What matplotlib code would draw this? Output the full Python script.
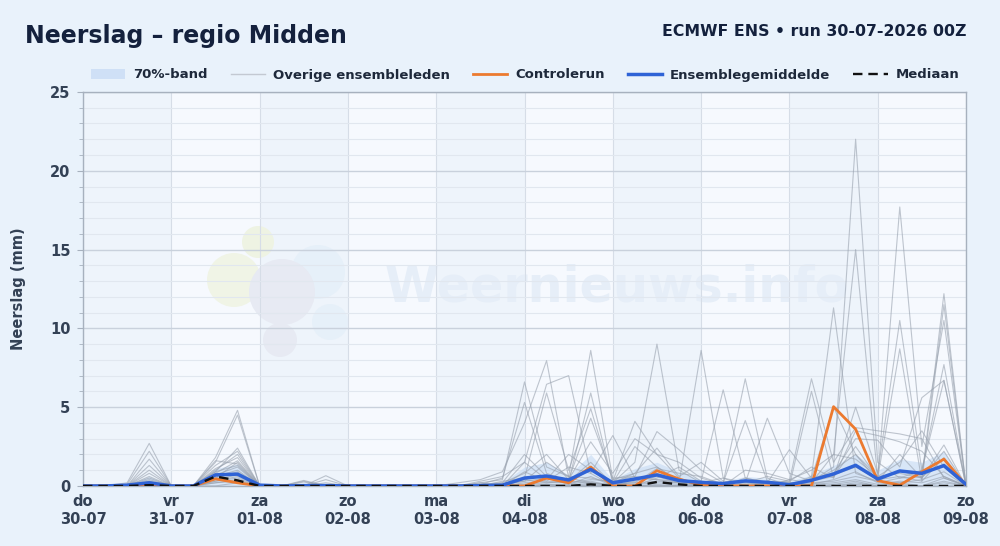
import numpy as np
import matplotlib.pyplot as plt
from matplotlib.patches import Patch, Ellipse
from matplotlib.lines import Line2D

# 6-hourly steps from 30-07 00Z to 09-08 00Z
steps = np.arange(41) * 6
day_labels = ['do\n30-07', 'vr\n31-07', 'za\n01-08', 'zo\n02-08', 'ma\n03-08', 'di\n04-08',
              'wo\n05-08', 'do\n06-08', 'vr\n07-08', 'za\n08-08', 'zo\n09-08']

# ensemble members (mm per 6h)
members = [
    [0,0,0.2,2.7,0, 0,1.8,4.8,0,0, 0,0,0,0,0, 0,0,0,0.2,0.4, 6.6,1.2,0.6,8.6,0.4, 0.8,1.2,0.3,0,0, 0,0.2,0,0.6,11.3, 0.8,0.3,2.0,0.5,12.2, 0],
    [0,0,0.1,2.2,0, 0,1.5,4.5,0,0, 0,0.2,0,0,0, 0,0,0,0.1,0.5, 5.3,0.8,0.3,5.9,0.2, 1.5,9.0,1.0,0.2,0, 0.5,0.2,0,0.3,1.2, 22.0,1.5,0.5,1.0,7.7, 0],
    [0,0,0,1.7,0, 0,0.9,2.4,0,0, 0.35,0,0,0,0, 0,0,0.2,0.4,0.9, 4.0,7.95,0.5,0.2,0, 0.3,0.6,0.2,8.6,0.5, 0,0,0.4,0.2,2.0, 15.0,0.5,17.7,2.5,10.5, 0],
    [0,0,0,1.3,0, 0,1.3,2.2,0,0, 0,0.65,0,0,0, 0,0,0,0.3,0.6, 1.5,6.45,7.0,0.8,3.2, 0.5,0.4,0.2,0.3,6.1, 0.5,0.2,0.3,6.8,1.5, 3.7,3.5,3.3,3.0,0.5, 0],
    [0,0,0,1.0,0, 0,1.0,2.0,0,0, 0,0,0,0,0, 0,0,0,0,0.3, 0.5,5.9,1.0,4.9,0.3, 4.1,2.0,0.5,0,0.2, 6.8,0.5,0,6.0,0.5, 5.0,0.8,10.5,1.0,6.7, 0],
    [0,0,0,0.8,0, 0,1.1,1.8,0,0, 0.3,0,0,0,0, 0,0,0,0,0.2, 2.0,0.6,0.4,4.3,0.5, 0.6,3.45,2.3,1.0,0.2, 4.15,0.3,0,0.5,5.0, 2.0,0.3,1.0,0.5,2.6, 0],
    [0,0,0,0.5,0, 0,0.8,1.6,0,0, 0,0.4,0,0,0, 0,0,0,0,0, 1.5,0.4,2.0,1.0,0.2, 2.5,1.2,0.3,0.1,0, 0.2,4.3,0.8,0.3,0.6, 2.5,0.5,8.7,0.3,11.5, 0],
    [0,0,0,0.4,0, 0,0.9,1.3,0,0, 0.25,0,0,0,0, 0,0,0,0.1,0.2, 0.8,2.0,0.4,2.8,0.8, 3.0,2.0,1.5,0.5,0.1, 0,0.2,2.3,0.5,0.8, 3.0,2.9,1.2,5.6,6.7, 0],
    [0,0,0,0.3,0, 0,0.7,1.2,0,0, 0,0,0,0,0, 0,0,0,0,0.1, 0.3,1.5,0.6,0.5,0.2, 0.8,2.4,0.6,1.5,0.3, 0.2,0.6,0.3,1.2,0.5, 3.5,3.2,2.8,2.2,0.6, 0],
    [0,0,0,0.2,0, 0,0.6,1.0,0,0, 0,0,0,0,0, 0,0,0,0,0, 0.2,0.3,1.2,0.8,0, 0,0.5,1.2,0.3,0, 1.0,0.8,0.4,1.0,2.0, 1.7,0.6,1.5,3.5,1.2, 0],
    [0,0,0,0.15,0, 0,0.5,0.9,0,0, 0,0,0,0,0, 0,0,0,0,0, 0.4,0.2,0.3,1.5,0.1, 0.2,1.1,0.8,0.6,0.1, 0.3,0.2,0,0.4,0.7, 1.2,0.4,0.6,0.3,1.8, 0],
    [0,0,0,0.1,0, 0,0.4,0.7,0,0, 0,0,0,0,0, 0,0,0,0.2,0, 0.9,0.3,0.2,0.4,0.3, 0.6,0.4,0.3,0.2,0.5, 0.2,0.1,0.2,0.3,1.0, 2.0,0.6,0.8,0.5,2.2, 0],
    [0,0,0,0.1,0, 0,0.3,0.6,0,0, 0,0,0,0,0, 0,0,0,0,0.1, 0.3,0.5,0.1,0.6,0, 0.4,0.8,0.3,0.1,0, 0.1,0.3,0.2,0.1,0.4, 0.9,0.2,0.5,0.6,1.4, 0],
    [0,0,0,0.05,0, 0,0.3,0.5,0,0, 0,0,0,0,0, 0,0,0,0,0, 0.1,0.2,0.3,0.2,0.1, 0.2,0.3,0.2,0,0, 0,0,0.1,0.2,0.3, 0.6,0.3,0.2,0.4,0.9, 0],
    [0,0,0,0,0, 0,0.2,0.4,0,0, 0,0,0,0,0, 0,0,0,0,0, 0,0.1,0.1,0.3,0, 0.1,0.2,0.1,0,0, 0,0,0,0.1,0.2, 0.4,0.1,0.3,0.2,0.6, 0],
    [0,0,0,0.6,0, 0,1.6,1.4,0,0, 0,0,0,0,0, 0,0,0,0,0, 0,0.1,0,0.2,0, 0,0.1,0,0,0, 0,0,0,0,0.1, 0.3,0,0.2,0,0.5, 0],
    [0,0,0,0,0, 0,0.5,1.5,0,0, 0,0,0,0,0, 0,0,0,0,0, 0,0,0,0.1,0, 0,0,0,0,0, 0,0,0,0,0, 0.2,0,0.1,0,0.3, 0],
    [0,0,0,0.3,0, 0,0.2,0.3,0,0, 0,0,0,0,0, 0,0,0,0,0, 0,0,0,0,0, 0,0,0,0,0, 0,0,0,0,0, 0,0,0,0,0, 0],
    [0,0,0,0,0, 0,0,0.2,0,0, 0,0,0,0,0, 0,0,0,0,0, 0,0,0,0,0, 0,0,0,0,0, 0,0,0,0,0, 0.1,0,0,0,0.2, 0],
]

control = [0,0,0,0.1,0, 0,0.45,0.2,0,0, 0,0,0,0,0, 0,0,0,0,0, 0,0.5,0.2,1.2,0, 0,0.97,0.44,0.05,0, 0,0,0,0,5.03, 3.6,0.34,0.05,0.9,1.7, 0.05]
ens_mean = [0,0,0.05,0.2,0, 0,0.7,0.75,0.05,0, 0.02,0.02,0,0,0, 0,0,0,0.02,0.05, 0.5,0.63,0.38,1.05,0.2, 0.44,0.7,0.34,0.23,0.15, 0.32,0.23,0.08,0.36,0.76, 1.31,0.44,0.95,0.8,1.29, 0.1]
median = [0,0,0,0.05,0, 0,0.6,0.35,0,0, 0,0,0,0,0, 0,0,0,0,0, 0,0,0,0.1,0, 0,0.25,0.1,0,0, 0,0,0,0,0, 0,0,0,0,0, 0]
band_lo = [0]*41
band_hi = [0,0,0.1,0.6,0, 0,1.1,1.4,0.1,0, 0.05,0.1,0,0,0, 0,0,0,0.1,0.2, 1.2,1.5,0.7,2.0,0.4, 1.1,1.5,0.9,0.4,0.3, 0.6,0.5,0.3,0.7,1.3, 2.0,1.0,1.7,1.5,2.2, 0]

fig = plt.figure(figsize=(10, 5.46), dpi=100, facecolor='#e9f2fb')
ax = fig.add_axes([0.083, 0.110, 0.883, 0.7216])
ax.set_facecolor('#f6f9fe')

# alternating day shading
for d in range(0, 10, 2):
    ax.axvspan(d * 24, (d + 1) * 24, color='#eef4fb', zorder=0.1, lw=0)

# watermark
ax.text(0.385, 1 - 288 / 546, 'Weernieuws.info', transform=fig.transFigure, fontsize=35.5,
        color='#e6eef8', va='center', ha='left', zorder=0.3, fontweight='bold')
for (cx, cy, r, c) in [(234, 280, 27, '#f0f4e6'), (258, 242, 16, '#eef3e3'), (318, 272, 27, '#e6f0f9'),
                       (282, 292, 33, '#e7eaf3'), (330, 322, 18, '#e6f0f9'), (280, 340, 17, '#e7eaf3')]:
    ax.add_artist(Ellipse((cx / 1000, 1 - cy / 546), 2 * r / 1000, 2 * r / 546,
                          transform=fig.transFigure, color=c, zorder=0.3, lw=0))

ax.fill_between(steps, band_lo, band_hi, color='#c8dcf4', alpha=0.65, lw=0, zorder=1.8)
for m in members:
    ax.plot(steps, m, color='#98a1ae', lw=0.8, alpha=0.6, zorder=2)
ax.plot(steps, control, color='#ec7a2f', lw=2.0, zorder=4)
ax.plot(steps, ens_mean, color='#2f63d6', lw=2.5, zorder=5)
ax.plot(steps, median, color='#111111', lw=1.7, ls=(0, (4, 2.5)), zorder=6)

ax.set_xlim(0, 240)
ax.set_ylim(0, 25)
ax.set_xticks(np.arange(0, 241, 24))
ax.set_xticklabels(day_labels)
ax.set_yticks(np.arange(0, 26, 5))
ax.set_yticks(np.arange(0, 26, 1), minor=True)
ax.tick_params(axis='x', length=0, pad=6, labelsize=10.5, labelcolor='#334155')
ax.tick_params(axis='y', which='major', length=4, color='#a7b1be', pad=5, labelsize=10.5, labelcolor='#334155')
ax.tick_params(axis='y', which='minor', length=3, color='#a7b1be')
for lab in ax.get_xticklabels() + ax.get_yticklabels():
    lab.set_fontweight('bold')

ax.set_axisbelow(True)
ax.grid(axis='y', which='major', color='#c9d1dc', lw=1.0)
ax.grid(axis='y', which='minor', color='#e1e7ef', lw=0.8)
ax.grid(axis='x', which='major', color='#d6dde7', lw=0.8)
for s in ax.spines.values():
    s.set_color('#a7b1be')
    s.set_linewidth(1.0)

ax.set_ylabel('Neerslag (mm)', fontsize=10.5, fontweight='bold', color='#334155', labelpad=17)

fig.text(0.025, 1 - 36 / 546, 'Neerslag – regio Midden', fontsize=17, fontweight='bold',
         color='#14213d', va='center', ha='left')
fig.text(0.967, 1 - 32 / 546, 'ECMWF ENS • run 30-07-2026 00Z', fontsize=11.3, fontweight='bold',
         color='#14213d', va='center', ha='right')

handles = [Patch(facecolor='#cfe0f6', edgecolor='none'),
           Line2D([], [], color='#c3c9d2', lw=1.0),
           Line2D([], [], color='#ec7a2f', lw=2.0),
           Line2D([], [], color='#2f63d6', lw=2.5),
           Line2D([], [], color='#111111', lw=1.7, ls=(0, (4, 2.5)))]
labels = ['70%-band', 'Overige ensembleleden', 'Controlerun', 'Ensemblegemiddelde', 'Mediaan']
leg = fig.legend(handles, labels, loc='center', bbox_to_anchor=(0.525, 1 - 75 / 546), ncol=5,
                 frameon=False, handlelength=2.6, handletextpad=0.6, columnspacing=1.75,
                 prop={'size': 9.5, 'weight': 'bold'})
for t in leg.get_texts():
    t.set_color('#1e293b')

fig.savefig('out.png', dpi=100, facecolor=fig.get_facecolor())
